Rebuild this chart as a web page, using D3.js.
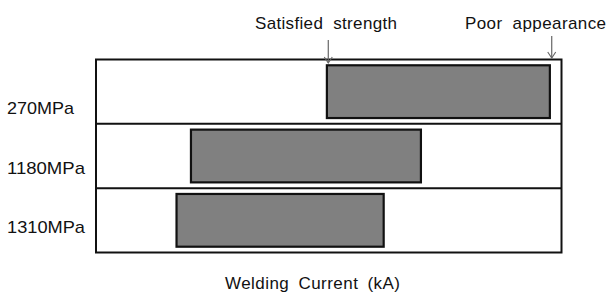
<!DOCTYPE html>
<html>
<head>
<meta charset="utf-8">
<script src="https://cdn.jsdelivr.net/npm/d3@7"></script>
<style>
  html, body { margin: 0; padding: 0; background: #fff; }
  svg { display: block; }
  text { font-family: "Liberation Sans", Arial, Helvetica, sans-serif; fill: #111; }
</style>
</head>
<body>
<svg id="chart" width="609" height="293"></svg>
<script>
// Data (relative welding current, no tick labels in the original)
const categories = ["270MPa", "1180MPa", "1310MPa"];
const rangeStart = [49.6, 20.4, 17.3];   // start of acceptable current range
const rangeEnd   = [97.5, 69.8, 61.8];   // end of acceptable current range
const annotations = [
  { label: "Satisfied strength", value: 49.9 },
  { label: "Poor appearance",   value: 97.9 }
];
const xTitle = "Welding Current (kA)";

const svg = d3.select("#chart");
const frame = { left: 96, right: 561.5, top: 59.5, bottom: 252.5 };

const x = d3.scaleLinear().domain([0, 100]).range([frame.left, frame.right]);
const y = d3.scaleBand().domain(categories).range([frame.top, frame.bottom])
  .paddingInner(0.18).paddingOuter(0.09);
const yLabel = d3.scalePoint().domain(categories).range([114, 233]);

const rows = categories.map((c, i) => ({ c, s: rangeStart[i], e: rangeEnd[i] }));

// Row separators
svg.append("g").selectAll("line").data(categories.slice(1)).join("line")
  .attr("x1", frame.left).attr("x2", frame.right)
  .attr("y1", d => y(d) - y.step() * y.paddingInner() / 2)
  .attr("y2", d => y(d) - y.step() * y.paddingInner() / 2)
  .attr("stroke", "#111").attr("stroke-width", 2);

// Frame
svg.append("rect")
  .attr("x", frame.left).attr("y", frame.top)
  .attr("width", frame.right - frame.left).attr("height", frame.bottom - frame.top)
  .attr("fill", "none").attr("stroke", "#111").attr("stroke-width", 2);

// Bars
svg.append("g").selectAll("rect").data(rows).join("rect")
  .attr("x", d => x(d.s))
  .attr("y", d => y(d.c))
  .attr("width", d => x(d.e) - x(d.s))
  .attr("height", y.bandwidth())
  .attr("fill", "#808080")
  .attr("stroke", "#111").attr("stroke-width", 2.2);

// Category labels
const labelWidths = [67, 78, 78];
svg.append("g").selectAll("text").data(categories).join("text")
  .attr("x", 7).attr("y", d => yLabel(d))
  .attr("font-size", 17)
  .attr("textLength", (d, i) => labelWidths[i]).attr("lengthAdjust", "spacingAndGlyphs")
  .text(d => d);

// Annotations with arrows
const annLeft = [255, 465], annWidth = [142, 141];
const ann = svg.append("g").selectAll("g").data(annotations).join("g");
ann.append("line")
  .attr("x1", d => x(d.value)).attr("x2", d => x(d.value))
  .attr("y1", (d, i) => i === 0 ? 40 : 36)
  .attr("y2", (d, i) => i === 0 ? 63 : 58)
  .attr("stroke", "#666").attr("stroke-width", 1.2);
ann.append("path")
  .attr("d", (d, i) => {
    const xx = x(d.value), yy = i === 0 ? 63 : 58;
    return `M${xx - 4},${yy - 6} L${xx},${yy} L${xx + 4},${yy - 6}`;
  })
  .attr("fill", "none").attr("stroke", "#666").attr("stroke-width", 1.1);
ann.append("text")
  .attr("x", (d, i) => annLeft[i])
  .attr("y", 29.3)
  .attr("font-size", 17).attr("word-spacing", 5)
  .attr("textLength", (d, i) => annWidth[i]).attr("lengthAdjust", "spacing")
  .text(d => d.label);

// X-axis title
svg.append("text")
  .attr("x", 225).attr("y", 289)
  .attr("font-size", 17).attr("word-spacing", 4)
  .attr("textLength", 175).attr("lengthAdjust", "spacing")
  .text(xTitle);
</script>
</body>
</html>
